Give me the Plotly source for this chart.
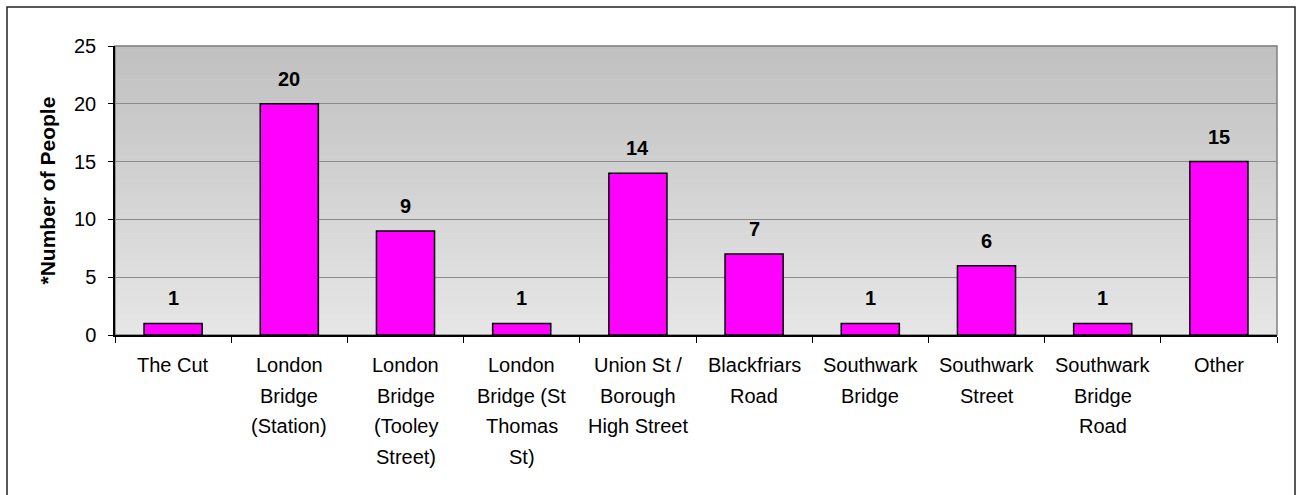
import plotly.graph_objects as go

categories = [
    "The Cut",
    "London<br>Bridge<br>(Station)",
    "London<br>Bridge<br>(Tooley<br>Street)",
    "London<br>Bridge (St<br>Thomas<br>St)",
    "Union St /<br>Borough<br>High Street",
    "Blackfriars<br>Road",
    "Southwark<br>Bridge",
    "Southwark<br>Street",
    "Southwark<br>Bridge<br>Road",
    "Other",
]
values = [1, 20, 9, 1, 14, 7, 1, 6, 1, 15]
y_ticks = [0, 5, 10, 15, 20, 25]
y_title = "*Number of People"

FONT = "Liberation Sans, Arial, sans-serif"
xs = list(range(len(categories)))

fig = go.Figure()
fig.add_trace(go.Bar(
    x=xs, y=values, width=0.5,
    marker=dict(color="#FF00FF", line=dict(color="black", width=1.5)),
    hoverinfo="skip",
))

shapes = []
# gradient background (dark top -> light bottom)
n = 60
top = (192, 192, 192)
bot = (230, 230, 230)
for i in range(n):
    t = i / (n - 1)
    c = tuple(round(bot[k] + (top[k] - bot[k]) * t) for k in range(3))
    shapes.append(dict(type="rect", xref="paper", yref="paper",
                       x0=0, x1=1, y0=i / n, y1=(i + 1) / n + 0.002,
                       fillcolor="rgb(%d,%d,%d)" % c, line=dict(width=0),
                       layer="below"))
# plot area border (gray)
shapes.append(dict(type="rect", xref="paper", yref="paper", x0=0, x1=1, y0=0, y1=1,
                   line=dict(color="#808080", width=1.5), layer="below"))
# outer chart border
shapes.append(dict(type="rect", xref="paper", yref="paper",
                   x0=(7 - 115) / 1162, x1=(1295 - 115) / 1162,
                   y0=-0.6, y1=(335 - 7) / 289,
                   line=dict(color="#222222", width=1.5), layer="above"))

annotations = []
for x, v in zip(xs, values):
    annotations.append(dict(x=x, y=v, xref="x", yref="y", text="<b>%d</b>" % v,
                            showarrow=False, yanchor="middle", yshift=25,
                            font=dict(family=FONT, size=20, color="black")))
for x, lab in zip(xs, categories):
    for j, line in enumerate(lab.split("<br>")):
        annotations.append(dict(x=x, y=0, xref="x", yref="y", text=line,
                                showarrow=False, yanchor="middle",
                                yshift=-30 - 30.5 * j,
                                font=dict(family=FONT, size=20, color="black")))
annotations.append(dict(x=-(115 - 47) / 1162, y=0.5, xref="paper", yref="paper",
                        text="<b>%s</b>" % y_title, textangle=-90, showarrow=False,
                        xanchor="center", yanchor="middle",
                        font=dict(family=FONT, size=21, color="black")))

fig.update_layout(
    width=1297, height=495,
    margin=dict(l=115, r=20, t=46, b=160),
    paper_bgcolor="white",
    plot_bgcolor="rgba(0,0,0,0)",
    showlegend=False,
    shapes=shapes,
    annotations=annotations,
    xaxis=dict(
        range=[-0.5, len(categories) - 0.5],
        tickvals=[i - 0.5 for i in range(len(categories) + 1)],
        showticklabels=False, ticks="outside", ticklen=6, tickcolor="black",
        showgrid=False, zeroline=False,
        showline=True, linecolor="black", linewidth=1.5,
    ),
    yaxis=dict(
        range=[0, 25], tickvals=y_ticks,
        ticks="outside", ticklen=5, tickcolor="black",
        tickfont=dict(family=FONT, size=20, color="black"),
        ticklabelstandoff=8,
        showgrid=True, gridcolor="#8c8c8c", gridwidth=1,
        zeroline=False, showline=True, linecolor="black", linewidth=1.5,
    ),
)

fig.write_html("out.html")
